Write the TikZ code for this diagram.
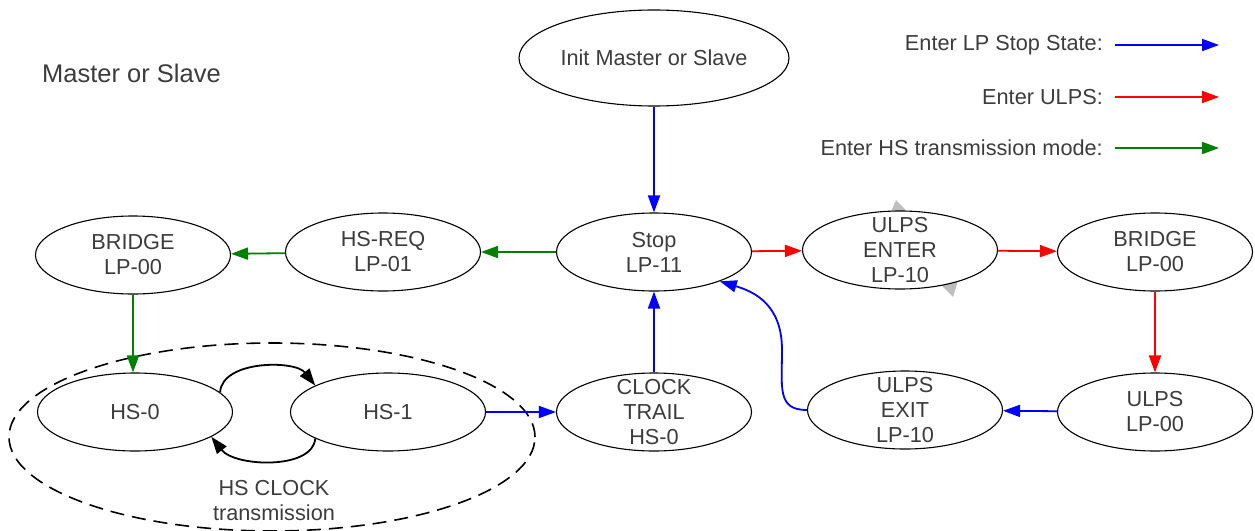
\documentclass[tikz,border=0pt]{standalone}
\usepackage{fontspec}
\setmainfont{Liberation Sans}
\usetikzlibrary{shapes.geometric,arrows.meta}
\definecolor{txt}{RGB}{60,60,60}
\definecolor{lpblue}{RGB}{0,0,255}
\definecolor{lpred}{RGB}{255,0,0}
\definecolor{hsgreen}{RGB}{0,128,0}
\definecolor{bargrey}{RGB}{190,190,190}
\begin{document}
\begin{tikzpicture}[x=1pt,y=-1pt,
  txtfont/.style={font=\fontsize{21.7pt}{25pt}\selectfont, text=txt},
  % negative vertical inner sep keeps every state at its fixed size,
  % so three-line texts may touch the outline
  state/.style={ellipse, draw=black, line width=1.1pt, fill=white,
    inner xsep=0pt, inner ysep=-30pt,
    minimum width=195pt, minimum height=78pt, align=center, txtfont},
  conn/.style={line width=1.8pt},
  toblue/.style={conn, draw=lpblue, -{Triangle[length=17pt,width=12pt,fill=lpblue]}},
  tored/.style={conn, draw=lpred, -{Triangle[length=17pt,width=12pt,fill=lpred]}},
  togreen/.style={conn, draw=hsgreen, -{Triangle[length=17pt,width=12pt,fill=hsgreen]}},
  clockarc/.style={conn, draw=black, -{Triangle[length=17pt,width=12pt,fill=black]}},
  legendtext/.style={txtfont, anchor=east, inner sep=0pt}]
\useasboundingbox (0,0) rectangle (1255,530);

% grouping of the high speed clock states
\node[ellipse, draw=black, line width=1.6pt, dash pattern=on 14pt off 8pt,
  minimum width=526pt, minimum height=188pt, inner sep=0pt] (hsgroup) at (272,437) {};

% grey diamond behind the ULPS entry state
\fill[bargrey] (896,200) -- (962,268) -- (953,297) -- (884,228) -- cycle;

% states
\node[state, minimum width=270pt, minimum height=96pt] (init) at (654,58) {Init Master or Slave};
\node[state] (stop) at (654,252) {Stop\\LP-11};
\node[state] (hsreq) at (383,252) {HS-REQ\\LP-01};
\node[state] (bridgeL) at (133,255) {BRIDGE\\LP-00};
\node[state] (uenter) at (900,250) {ULPS\\ENTER\\LP-10};
\node[state] (bridgeR) at (1155,252) {BRIDGE\\LP-00};
\node[state] (ulps) at (1155,412) {ULPS\\LP-00};
\node[state] (uexit) at (905,410) {ULPS\\EXIT\\LP-10};
\node[state] (ctrail) at (654,412) {CLOCK\\TRAIL\\HS-0};
\node[state] (hs1) at (388,412) {HS-1};
\node[state] (hs0) at (135,412) {HS-0};

% labels
\node[text=txt, anchor=west, inner sep=0pt, font=\fontsize{25.5pt}{30pt}\selectfont] (title) at (42,73) {Master or Slave};
\node[txtfont, align=center, inner sep=0pt] (hsclk) at (274,501) {HS CLOCK\\transmission};

% legend
\node[legendtext] (lg1) at (1103,45) {Enter LP Stop State:};
\node[legendtext] (lg2) at (1103,97) {Enter ULPS:};
\node[legendtext] (lg3) at (1103,148) {Enter HS transmission mode:};
\coordinate (lg1a) at (1115,45);  \coordinate (lg1b) at (1219,45);
\coordinate (lg2a) at (1115,97);  \coordinate (lg2b) at (1219,97);
\coordinate (lg3a) at (1115,148); \coordinate (lg3b) at (1219,148);
\draw[toblue] (lg1a) -- (lg1b);
\draw[tored] (lg2a) -- (lg2b);
\draw[togreen] (lg3a) -- (lg3b);

% transitions
\draw[toblue] (init) -- (stop);
\draw[togreen] (stop) -- (hsreq);
\draw[togreen] (hsreq) -- (bridgeL);
\draw[togreen] (bridgeL.south) -- (bridgeL.south |- hs0.north);
\draw[tored] (stop) -- (uenter);
\draw[tored] (uenter) -- (bridgeR);
\draw[tored] (bridgeR) -- (ulps);
\draw[toblue] (ulps) -- (uexit);
\draw[toblue] (uexit.west) .. controls (777,410) and (782,388) .. (782,350)
  .. controls (782,305) and (755,292) .. (stop.-24);
\draw[toblue] (ctrail) -- (stop);
\draw[toblue] (hs1) -- (ctrail);

% high speed clock toggling
\draw[clockarc] (hs0.13) .. controls (222,360) and (295,360) .. (hs1.160);
\draw[clockarc] (hs1.200) .. controls (313,470) and (235,467) .. (hs0.-18);
\end{tikzpicture}
\end{document}
